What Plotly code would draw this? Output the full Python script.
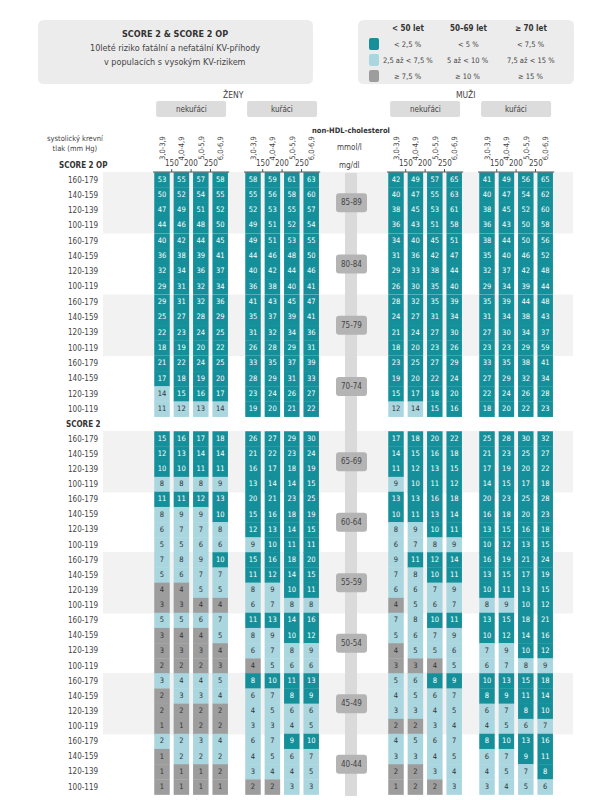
import plotly.graph_objects as go

ages = ["85-89", "80-84", "75-79", "70-74", "65-69", "60-64", "55-59", "50-54", "45-49", "40-44"]
bp_labels = ["160-179", "140-159", "120-139", "100-119"]
chol_labels = ["3,0-3,9", "4,0-4,9", "5,0-5,9", "6,0-6,9"]
mgdl_ticks = ["150", "200", "250"]
# thresholds (light, dark) per age group in %
thresholds = [(7.5, 15)] * 4 + [(5, 10)] * 4 + [(2.5, 7.5)] * 2

women_non = [
    [[53, 55, 57, 58], [50, 52, 54, 55], [47, 49, 51, 52], [44, 46, 48, 50]],
    [[40, 42, 44, 45], [36, 38, 39, 41], [32, 34, 36, 37], [29, 31, 32, 34]],
    [[29, 31, 32, 36], [25, 27, 28, 29], [22, 23, 24, 25], [18, 19, 20, 22]],
    [[21, 22, 24, 25], [17, 18, 19, 20], [14, 15, 16, 17], [11, 12, 13, 14]],
    [[15, 16, 17, 18], [12, 13, 14, 14], [10, 10, 11, 11], [8, 8, 8, 9]],
    [[11, 11, 12, 13], [8, 9, 9, 10], [6, 7, 7, 8], [5, 5, 6, 6]],
    [[7, 8, 9, 10], [5, 6, 7, 7], [4, 4, 5, 5], [3, 3, 4, 4]],
    [[5, 5, 6, 7], [3, 4, 4, 5], [3, 3, 3, 4], [2, 2, 2, 3]],
    [[3, 4, 4, 5], [2, 3, 3, 4], [2, 2, 2, 2], [1, 1, 2, 2]],
    [[2, 2, 3, 4], [1, 2, 2, 2], [1, 1, 1, 2], [1, 1, 1, 1]],
]
women_smk = [
    [[58, 59, 61, 63], [55, 56, 58, 60], [52, 53, 55, 57], [49, 51, 52, 54]],
    [[49, 51, 53, 55], [44, 46, 48, 50], [40, 42, 44, 46], [36, 38, 40, 41]],
    [[41, 43, 45, 47], [35, 37, 39, 41], [31, 32, 34, 36], [26, 28, 29, 31]],
    [[33, 35, 37, 39], [28, 29, 31, 33], [23, 24, 26, 27], [19, 20, 21, 22]],
    [[26, 27, 29, 30], [21, 22, 23, 24], [16, 17, 18, 19], [13, 14, 14, 15]],
    [[20, 21, 23, 25], [15, 16, 18, 19], [12, 13, 14, 15], [9, 10, 11, 11]],
    [[15, 16, 18, 20], [11, 12, 14, 15], [8, 9, 10, 11], [6, 7, 8, 8]],
    [[11, 13, 14, 16], [8, 9, 10, 12], [6, 7, 8, 9], [4, 5, 6, 6]],
    [[8, 10, 11, 13], [6, 7, 8, 9], [4, 5, 6, 6], [3, 3, 4, 5]],
    [[6, 7, 9, 10], [4, 5, 6, 7], [3, 4, 4, 5], [2, 2, 3, 3]],
]
men_non = [
    [[42, 49, 57, 65], [40, 47, 55, 63], [38, 45, 53, 61], [36, 43, 51, 58]],
    [[34, 40, 45, 51], [31, 36, 42, 47], [29, 33, 38, 44], [26, 30, 35, 40]],
    [[28, 32, 35, 39], [24, 27, 31, 34], [21, 24, 27, 30], [18, 20, 23, 26]],
    [[23, 25, 27, 29], [19, 20, 22, 24], [15, 17, 18, 20], [12, 14, 15, 16]],
    [[17, 18, 20, 22], [14, 15, 16, 18], [11, 12, 13, 15], [9, 10, 11, 12]],
    [[13, 13, 16, 18], [10, 11, 13, 14], [8, 9, 10, 11], [6, 7, 8, 9]],
    [[9, 11, 12, 14], [7, 8, 10, 11], [6, 6, 7, 9], [4, 5, 6, 7]],
    [[7, 8, 10, 11], [5, 6, 7, 9], [4, 5, 5, 6], [3, 3, 4, 5]],
    [[5, 6, 8, 9], [4, 5, 6, 7], [3, 3, 4, 5], [2, 2, 3, 4]],
    [[4, 5, 6, 7], [3, 3, 4, 5], [2, 2, 3, 4], [1, 2, 2, 3]],
]
men_smk = [
    [[41, 49, 56, 65], [40, 47, 54, 62], [38, 45, 52, 60], [36, 43, 50, 58]],
    [[38, 44, 50, 56], [35, 40, 46, 52], [32, 37, 42, 48], [29, 34, 39, 44]],
    [[35, 39, 44, 48], [31, 34, 38, 43], [27, 30, 34, 37], [23, 23, 29, 59]],
    [[33, 35, 38, 41], [27, 29, 32, 34], [22, 24, 26, 28], [18, 20, 22, 23]],
    [[25, 28, 30, 32], [21, 23, 25, 27], [17, 19, 20, 22], [14, 15, 17, 18]],
    [[20, 23, 25, 28], [16, 18, 20, 23], [13, 15, 16, 18], [10, 12, 13, 15]],
    [[16, 19, 21, 24], [13, 15, 17, 19], [10, 11, 13, 15], [8, 9, 10, 12]],
    [[13, 15, 18, 21], [10, 12, 14, 16], [7, 9, 10, 12], [6, 7, 8, 9]],
    [[10, 13, 15, 18], [8, 9, 11, 14], [6, 7, 8, 10], [4, 5, 6, 7]],
    [[8, 10, 13, 16], [6, 7, 9, 11], [4, 5, 7, 8], [3, 4, 5, 6]],
]
# cells printed in the light colour although the rounded value is 2 (panel, age, row, col)
light_twos = [(0, 9, 0, 0), (0, 9, 0, 1), (0, 9, 1, 1), (0, 9, 1, 2), (0, 9, 1, 3)]

DARK, LIGHT, GREY = "#15909a", "#a9d6df", "#9d9d9d"
FONT = "DejaVu Sans Condensed, Open Sans, sans-serif"
TXT = "#444"

panels = [women_non, women_smk, men_non, men_smk]
panel_x = [154, 245, 388, 479]
col_step = 19.4
row_step = 15.2


def group_y(g):
    return (172 + g * 61.2) if g < 4 else (431 + (g - 4) * 60.5)


fig = go.Figure()
shapes = []
ann = []


def text(x, y, s, size=8, color=TXT, bold=False, angle=0, xanchor="center"):
    ann.append(dict(x=x, y=y, xref="x", yref="y", text=f"<b>{s}</b>" if bold else s,
                    showarrow=False, font=dict(size=size, color=color, family=FONT),
                    textangle=angle, xanchor=xanchor, yanchor="middle"))


def box(x0, y0, x1, y1, fill, r=4):
    shapes.append(dict(type="path", xref="x", yref="y", fillcolor=fill, line_width=0, layer="below",
                       path=f"M{x0+r},{y0} L{x1-r},{y0} Q{x1},{y0} {x1},{y0+r} L{x1},{y1-r} Q{x1},{y1} {x1-r},{y1} "
                            f"L{x0+r},{y1} Q{x0},{y1} {x0},{y1-r} L{x0},{y0+r} Q{x0},{y0} {x0+r},{y0} Z"))


# header boxes
box(30, 12, 305, 76, "#ececec", 6)
text(167, 26, "SCORE 2 & SCORE 2 OP", 9, "#333", True)
text(167, 40, "10leté riziko fatální a nefatální KV-příhody", 9)
text(167, 54, "v populacích s vysokým KV-rizikem", 9)
box(350, 12, 566, 76, "#ececec", 6)
for cx, h in zip([400, 460, 523], ["< 50 let", "50–69 let", "≥ 70 let"]):
    text(cx, 20, h, 8, "#333", True)
leg_rows = [["< 2,5 %", "< 5 %", "< 7,5 %"], ["2,5 až < 7,5 %", "5 až < 10 %", "7,5 až < 15 %"],
            ["≥ 7,5 %", "≥ 10 %", "≥ 15 %"]]
for i, (row, c) in enumerate(zip(leg_rows, [DARK, LIGHT, GREY])):
    y = 36 + i * 16
    box(361, y - 6, 371, y + 6, c, 2)
    for cx, s in zip([400, 460, 523], row):
        text(cx, y, s, 7.5)

text(225, 86, "ŽENY", 8.5)
text(458, 86, "MUŽI", 8.5)
for px, lab in zip(panel_x, ["nekuřáci", "kuřáci", "nekuřáci", "kuřáci"]):
    cx = px + 1.5 * col_step
    box(cx - 35, 93, cx + 35, 109, "#dcdcdc", 2)
    text(cx, 101, lab, 8)
    for j, cl in enumerate(chol_labels):
        text(px + j * col_step, 140, cl, 7.5, angle=-90)
    for j, t in enumerate(mgdl_ticks):
        text(px + (j + 0.5) * col_step, 155, t, 8)
        shapes.append(dict(type="line", xref="x", yref="y", x0=px + (j + 0.5) * col_step, x1=px + (j + 0.5) * col_step,
                           y0=161, y1=164, line=dict(color="#555", width=1)))
    shapes.append(dict(type="line", xref="x", yref="y", x0=px - 9, x1=px + 3 * col_step + 9, y0=164, y1=164,
                       line=dict(color="#555", width=1.2)))
text(343, 122, "non-HDL-cholesterol", 7.5, "#333", True)
text(341, 139, "mmol/l", 8)
text(341, 157, "mg/dl", 8)
text(67, 135, "systolický krevní<br>tlak (mm Hg)", 7.5)
text(75, 157, "SCORE 2 OP", 8, "#333", True)
text(75, 416, "SCORE 2", 8, "#333", True)

# bands and centre bar
for g in range(0, 10, 2):
    y0 = group_y(g)
    shapes.append(dict(type="rect", xref="x", yref="y", x0=95, x1=565, y0=y0 - 8, y1=y0 + 3 * row_step + 8,
                       fillcolor="rgba(0,0,0,0.05)", line_width=0, layer="below"))
shapes.append(dict(type="rect", xref="x", yref="y", x0=337, x1=349, y0=165, y1=788,
                   fillcolor="#dadada", line_width=0, layer="below"))

for g, age in enumerate(ages):
    yc = group_y(g) + 1.5 * row_step
    box(328, yc - 9.5, 359, yc + 9.5, "#b4b4b4", 3)
    text(343.5, yc, age, 8)
    for r, bp in enumerate(bp_labels):
        text(75, group_y(g) + r * row_step, bp, 8)

for p, (data, px) in enumerate(zip(panels, panel_x)):
    xs, ys, vals, cols, tcols = [], [], [], [], []
    for g, grid in enumerate(data):
        lo, hi = thresholds[g]
        for r, row in enumerate(grid):
            for c, v in enumerate(row):
                if v >= hi:
                    col = DARK
                elif v >= lo or (p, g, r, c) in light_twos:
                    col = LIGHT
                else:
                    col = GREY
                xs.append(px + c * col_step)
                ys.append(group_y(g) + r * row_step)
                vals.append(str(v))
                cols.append(col)
                tcols.append("white" if col == DARK else "#333")
    fig.add_trace(go.Scatter(x=xs, y=ys, mode="markers+text", text=vals, textposition="middle center",
                             textfont=dict(size=7.5, color=tcols, family=FONT),
                             marker=dict(symbol="square", size=15.5, color=cols, line_width=0),
                             hoverinfo="skip", showlegend=False))

fig.update_layout(width=597, height=800, margin=dict(l=0, r=0, t=0, b=0),
                  paper_bgcolor="white", plot_bgcolor="white", shapes=shapes, annotations=ann,
                  xaxis=dict(range=[0, 597], visible=False, fixedrange=True),
                  yaxis=dict(range=[800, 0], visible=False, fixedrange=True))
fig.write_html("out.html")
